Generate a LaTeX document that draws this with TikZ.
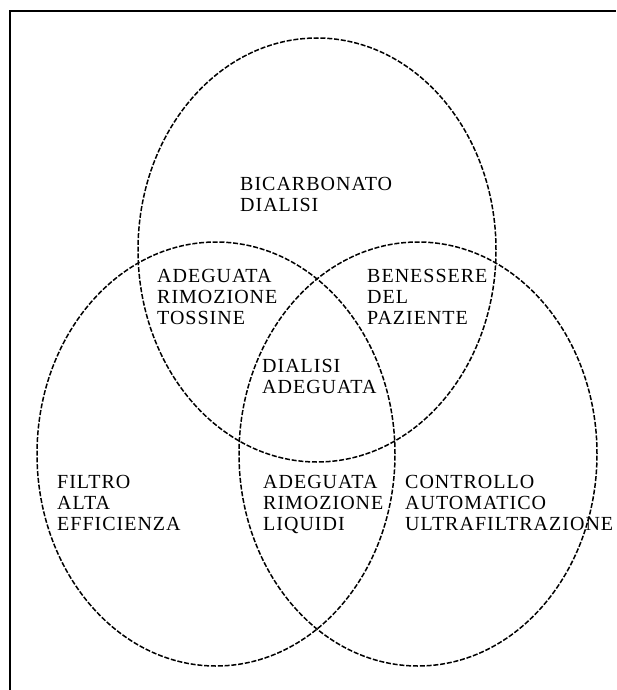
\documentclass[tikz,border=0pt]{standalone}
\usepackage{fontspec}
\setmainfont{Liberation Serif}[LetterSpace=5]
\usetikzlibrary{shapes.geometric}

\begin{document}
\begin{tikzpicture}[
    x=1pt, y=-1pt,
    zone/.style={ellipse, draw=black, line width=1.5pt, dash pattern=on 5pt off 1.8pt, minimum width=358pt, minimum height=424pt, inner sep=0pt},
    label/.style={anchor=north west, inner sep=0pt, align=left, font=\fontsize{20}{20.8}\selectfont}
]
    \useasboundingbox (0,0) rectangle (616,690);
    % open frame, top and left only
    \draw[line width=2pt] (10,690) -- (10,11) -- (616,11);

    \node[zone] (bicarb)  at (317,250) {};
    \node[zone] (filtro)  at (216,454) {};
    \node[zone] (control) at (418,454) {};

    \node[label] (bicarbtxt)  at (240,177) {BICARBONATO\\DIALISI};
    \node[label] (tossine)    at (157,269) {ADEGUATA\\RIMOZIONE\\TOSSINE};
    \node[label] (benessere)  at (367,269) {BENESSERE\\DEL\\PAZIENTE};
    \node[label] (adeguata)   at (262,359) {DIALISI\\ADEGUATA};
    \node[label] (filtrotxt)  at (57,475)  {FILTRO\\ALTA\\EFFICIENZA};
    \node[label] (liquidi)    at (263,475) {ADEGUATA\\RIMOZIONE\\LIQUIDI};
    \node[label] (controltxt) at (405,475) {CONTROLLO\\AUTOMATICO\\ULTRAFILTRAZIONE};
\end{tikzpicture}
\end{document}
